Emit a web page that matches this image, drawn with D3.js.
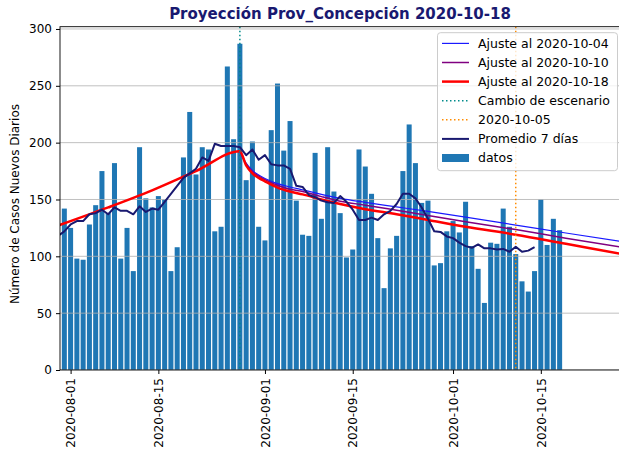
<!DOCTYPE html>
<html>
<head>
<meta charset="utf-8">
<script src="https://d3js.org/d3.v7.min.js"></script>
<style>
  body { margin: 0; background: #fff; }
  svg { display: block; font-family: "DejaVu Sans", sans-serif; }
</style>
</head>
<body>
<svg id="chart" width="619" height="457"></svg>
<script>
"use strict";

// daily cases, one bar per day starting 2020-07-31
const firstDay = "2020-07-31";
const casos = [
  142, 125, 98, 97, 128, 145, 175, 138, 182, 98, 125, 87, 196, 151, 143, 153,
  150, 87, 108, 187, 227, 172, 196, 194, 122, 126, 267, 203, 287, 167, 201, 126,
  114, 211, 252, 193, 219, 149, 119, 118, 191, 133, 196, 157, 138, 99, 106, 194,
  179, 155, 116, 72, 107, 118, 175, 216, 182, 147, 149, 92, 94, 122, 131, 121,
  148, 109, 89, 59, 112, 111, 142, 126, 102, 78, 69, 87, 150, 110, 133, 123
];

// 7-day mean, daily from 2020-07-30
const promedioDesde = "2020-07-30";
const promedio7 = [
  118, 122, 128, 131, 131, 137, 138, 141, 137, 143, 140, 140, 137, 144, 139, 142,
  141, 148, 155, 162, 169, 173, 177, 187, 184, 199, 197, 197, 197, 196, 189, 194,
  185, 189, 181, 180, 180, 177, 162, 161, 154, 152, 149, 147.5, 147, 153, 148, 141,
  132, 132, 134, 132, 137, 140, 146, 155, 155, 151, 143, 133, 122, 121.5, 117.5, 116,
  112, 109, 107.5, 110.5, 107, 107, 106, 106.5, 104, 108.5, 104, 105, 108
];

// fitted curves
const subidaFechas = ["2020-07-30", "2020-08-07", "2020-08-14", "2020-08-21"];
const subidaValores = [127, 143, 158, 175];
const ajusteFechas = [
  "2020-08-28", "2020-08-29", "2020-08-30", "2020-08-31", "2020-09-01", "2020-09-03",
  "2020-09-05", "2020-09-07", "2020-09-10", "2020-09-13", "2020-09-17", "2020-09-22",
  "2020-09-27", "2020-10-03", "2020-10-11", "2020-10-19", "2020-10-28"
];
const ajuste1004 = [192.5, 182, 175.5, 171.5, 168.5, 164, 161, 158.5, 154.5, 151, 147.5, 143.5, 139.5, 134.5, 127.5, 120.5, 113];
const ajuste1010 = [192.5, 181, 174.5, 170.5, 167.5, 162.5, 159, 157, 152.5, 148.5, 145, 140.5, 136, 130.5, 123.5, 116, 108];
const ajuste1018 = [192.5, 180, 173, 169, 166, 160.5, 157, 154.5, 150, 146, 141.5, 137, 132, 126, 119, 111, 102];

const cambioEscenario = "2020-08-28";
const fechaNaranja = "2020-10-11";

const xTicks = ["2020-08-01", "2020-08-15", "2020-09-01", "2020-09-15", "2020-10-01", "2020-10-15"];
const yTicks = [0, 50, 100, 150, 200, 250, 300];
const xDomain = ["2020-07-30T07:26:00Z", "2020-10-27T15:07:00Z"];
const yMax = 302;

const parse = d3.utcParse("%Y-%m-%d");
const M = { left: 60, right: 620, top: 26.7, bottom: 370 };

const svg = d3.select("#chart");
const x = d3.scaleUtc().domain(xDomain.map((s) => new Date(s))).range([M.left, M.right]);
const y = d3.scaleLinear().domain([0, yMax]).range([M.bottom, M.top]);

svg.append("defs").append("clipPath").attr("id", "plot-clip")
  .append("rect").attr("x", M.left).attr("y", M.top)
  .attr("width", M.right - M.left).attr("height", M.bottom - M.top);

const plot = svg.append("g").attr("clip-path", "url(#plot-clip)");

// bars
const d0 = parse(firstDay);
const bars = casos.map((v, i) => ({ date: d3.utcDay.offset(d0, i), v }));
const bw = (x(d3.utcDay.offset(d0, 1)) - x(d0)) * 0.8;
plot.append("g").selectAll("rect")
  .data(bars).join("rect")
  .attr("x", (d) => x(d.date) - bw / 2)
  .attr("y", (d) => y(d.v))
  .attr("width", bw)
  .attr("height", (d) => y(0) - y(d.v))
  .attr("fill", "#1f77b4");

// horizontal grid
plot.append("g").selectAll("line")
  .data(yTicks).join("line")
  .attr("x1", M.left).attr("x2", M.right)
  .attr("y1", (d) => y(d)).attr("y2", (d) => y(d))
  .attr("stroke", "#b0b0b0").attr("stroke-width", 0.8);

const line = d3.line().x((d) => x(d[0])).y((d) => y(d[1])).curve(d3.curveMonotoneX);
const pairs = (dates, vals) => dates.map((s, i) => [parse(s), vals[i]]);

const fits = [
  { pts: pairs(ajusteFechas, ajuste1004), color: "#1a1aff", w: 1.2 },
  { pts: pairs(ajusteFechas, ajuste1010), color: "purple", w: 1.5 },
  { pts: pairs(subidaFechas.concat(ajusteFechas), subidaValores.concat(ajuste1018)), color: "red", w: 2.5 }
];
fits.forEach((f) => {
  plot.append("path").attr("d", line(f.pts))
    .attr("fill", "none").attr("stroke", f.color).attr("stroke-width", f.w);
});

// vertical markers
[[cambioEscenario, "darkcyan"], [fechaNaranja, "darkorange"]].forEach(([s, c]) => {
  plot.append("line")
    .attr("x1", x(parse(s))).attr("x2", x(parse(s)))
    .attr("y1", M.top).attr("y2", M.bottom)
    .attr("stroke", c).attr("stroke-width", 1.5).attr("stroke-dasharray", "1.5,2.5");
});

// 7-day mean
const p0 = parse(promedioDesde);
const prom = promedio7.map((v, i) => [d3.utcDay.offset(p0, i), v]);
plot.append("path")
  .attr("d", d3.line().x((d) => x(d[0])).y((d) => y(d[1]))(prom))
  .attr("fill", "none").attr("stroke", "midnightblue").attr("stroke-width", 2)
  .attr("stroke-linejoin", "round");

// frame
svg.append("rect")
  .attr("x", M.left).attr("y", M.top)
  .attr("width", M.right - M.left).attr("height", M.bottom - M.top)
  .attr("fill", "none").attr("stroke", "#000").attr("stroke-width", 0.9);

// axes
const fmt = d3.utcFormat("%Y-%m-%d");
const xAxis = svg.append("g").attr("transform", `translate(0,${M.bottom})`)
  .call(d3.axisBottom(x).tickValues(xTicks.map(parse)).tickFormat(fmt).tickSize(4).tickSizeOuter(0));
xAxis.select(".domain").remove();
xAxis.selectAll("text")
  .attr("y", 0).attr("x", -8).attr("dy", "0.35em")
  .attr("transform", "rotate(-90)")
  .style("text-anchor", "end")
  .style("font-size", "12px").style("font-family", "DejaVu Sans").attr("fill", "#000");

const yAxis = svg.append("g").attr("transform", `translate(${M.left},0)`)
  .call(d3.axisLeft(y).tickValues(yTicks).tickSize(4).tickPadding(4).tickSizeOuter(0));
yAxis.select(".domain").remove();
yAxis.selectAll("text").style("font-size", "12px").style("font-family", "DejaVu Sans").attr("fill", "#000");

// labels
svg.append("text")
  .attr("transform", "translate(15,204) rotate(-90)")
  .attr("text-anchor", "middle").attr("dy", "0.35em")
  .style("font-size", "12px")
  .text("Número de Casos Nuevos Diarios");

svg.append("text")
  .attr("x", (M.left + M.right) / 2).attr("y", 19)
  .attr("text-anchor", "middle")
  .style("font-size", "15px").style("font-weight", "bold")
  .attr("fill", "midnightblue")
  .text("Proyección Prov_Concepción 2020-10-18");

// legend
const legendItems = [
  { label: "Ajuste al 2020-10-04", color: "#1a1aff", w: 1.2 },
  { label: "Ajuste al 2020-10-10", color: "purple", w: 1.5 },
  { label: "Ajuste al 2020-10-18", color: "red", w: 2.5 },
  { label: "Cambio de escenario", color: "darkcyan", w: 1.5, dash: "1.5,2.5" },
  { label: "2020-10-05", color: "darkorange", w: 1.5, dash: "1.5,2.5" },
  { label: "Promedio 7 días", color: "midnightblue", w: 2 },
  { label: "datos", color: "#1f77b4", patch: true }
];
const lg = svg.append("g");
lg.append("rect")
  .attr("x", 437.5).attr("y", 32.7).attr("width", 180).attr("height", 138).attr("rx", 3)
  .attr("fill", "#fff").attr("fill-opacity", 0.8).attr("stroke", "#cccccc");
legendItems.forEach((it, i) => {
  const cy = 43.4 + i * 19.1;
  if (it.patch) {
    lg.append("rect").attr("x", 442).attr("y", cy - 4).attr("width", 27).attr("height", 8).attr("fill", it.color);
  } else {
    lg.append("line").attr("x1", 442).attr("x2", 469).attr("y1", cy).attr("y2", cy)
      .attr("stroke", it.color).attr("stroke-width", it.w)
      .attr("stroke-dasharray", it.dash || null);
  }
  lg.append("text").attr("x", 478).attr("y", cy).attr("dy", "0.35em")
    .style("font-size", "12.5px").text(it.label);
});
</script>
</body>
</html>
